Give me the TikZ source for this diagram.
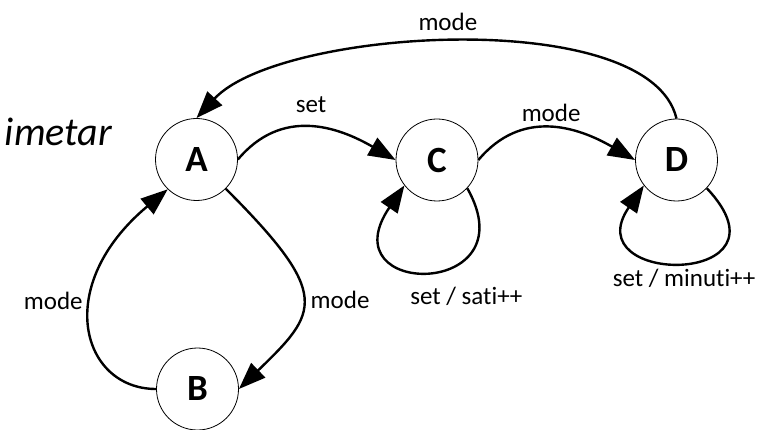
\documentclass[tikz,border=0pt]{standalone}
\usepackage{fontspec}
\setmainfont{Carlito}[Ligatures=NoCommon]
\usepackage{tikz}
\usetikzlibrary{arrows.meta,calc}

\begin{document}
\begin{tikzpicture}[x=1pt,y=1pt,
    state/.style={circle,draw,line width=0.8pt,minimum size=82pt,inner sep=0pt,
      font=\fontsize{37}{40}\selectfont\bfseries},
    edge/.style={line width=2.4pt,-{Triangle[length=27pt,width=20pt]}},
    lbl/.style={font=\fontsize{25}{28}\selectfont}]
    \useasboundingbox (0,0) rectangle (776,-430);

    \node[font=\fontsize{40}{44}\selectfont\itshape,anchor=base east,inner sep=0pt] (naslov) at (112,-146) {imetar};

    \node[state] (A) at (196.5,-159.5) {A};
    \node[state] (B) at (197.5,-389) {B};
    \node[state] (C) at (437,-160) {C};
    \node[state] (D) at (676.5,-160) {D};

    \draw[edge] (D.north) .. controls (650,-5) and (280,-28) .. node[lbl,above=7pt,xshift=-10pt]{mode} (A.north);
    \draw[edge] (A.east) to[out=50,in=150,looseness=1.1] node[lbl,above=10pt]{set} (C.west);
    \draw[edge] (C.east) to[out=50,in=150,looseness=1.1] node[lbl,above=2pt]{mode} (D.west);
    \draw[edge] (C.-43) .. controls (530,-299) and (327,-299) .. node[lbl,below=12pt,xshift=36pt]{set / sati++} (C.-142);
    \draw[edge] (D.-43) .. controls (800,-287) and (574,-287) .. node[lbl,below=3pt]{set / minuti++} (D.-142);
    \draw[edge] (A.-45) .. controls (332.6,-295.6) and (318.4,-312) .. node[lbl,right=4pt]{mode} (B.east);
    \draw[edge] (B.west) .. controls (81.5,-389) and (52,-286) .. node[lbl,left=5pt,pos=0.6]{mode} (A.-134);
\end{tikzpicture}
\end{document}
